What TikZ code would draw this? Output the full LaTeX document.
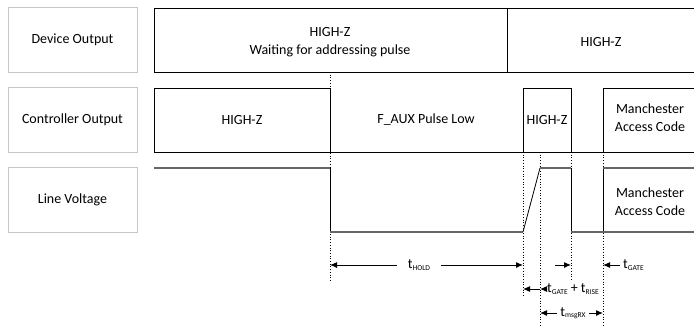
\documentclass[tikz,border=0pt]{standalone}
\usepackage{fontspec}
\setmainfont{Carlito}
\usetikzlibrary{arrows.meta}
\newcommand{\tsub}[1]{t\raisebox{-0.2ex}{\fontsize{7.5}{8}\selectfont #1}}

\begin{document}
\begin{tikzpicture}[x=1pt, y=-1pt, font=\fontsize{14}{18}\selectfont,
    edge/.style={line width=0.8pt},
    wave/.style={draw=black!60, line width=1.3pt},
    guide/.style={dotted, line width=0.7pt},
    dim/.style={line width=1pt, -{Latex[length=7pt,width=6pt]}}]
\useasboundingbox (0,0) rectangle (694,327);

% row labels
\begin{scope}[every node/.style={draw=black!22, line width=0.8pt, minimum width=129pt, minimum height=65pt}]
\node (dev) at (72.5,40) {Device Output};
\node (ctl) at (72.5,120) {Controller Output};
\node (volt) at (72.5,200) {Line Voltage};
\end{scope}

% timing guides
\draw[guide] (330,72) -- (330,282);
\draw[guide] (523,152) -- (523,296);
\draw[guide] (540,152) -- (540,327);
\draw[guide] (571,152) -- (571,280);
\draw[guide] (603,152) -- (603,327);

% device output
\draw[edge] (694,8) -- (154,8) -- (154,72) -- (694,72);
\draw[edge] (507,8) -- (507,72);
\node[align=center] (wait) at (330,42) {HIGH-Z\\Waiting for addressing pulse};
\node (devz) at (601,42) {HIGH-Z};

% controller output
\draw[edge] (154,152) -- (154,88) -- (330,88) -- (330,152);
\draw[edge] (154,152) -- (694,152);
\draw[edge] (523,152) -- (523,88) -- (571,88) -- (571,152);
\draw[edge] (603,152) -- (603,88) -- (694,88);
\node (ctlz) at (242,120) {HIGH-Z};
\node (faux) at (426,120) {F\_AUX Pulse Low};
\node (pz) at (547,120) {HIGH-Z};
\node[align=center] (mac1) at (650,118) {Manchester\\Access Code};

% line voltage
\draw[wave] (154,168) -- (330,168);
\draw[edge] (330,168) -- (330,232);
\draw[wave] (330,232) -- (523,232);
\draw[edge] (523,232) -- (540,168);
\draw[wave] (540,168) -- (571,168);
\draw[edge] (571,168) -- (571,232);
\draw[wave] (571,232) -- (603,232);
\draw[edge] (603,232) -- (603,168);
\draw[wave] (603,168) -- (694,168);
\draw[wave] (603,232) -- (694,232);
\node[align=center] (mac2) at (650,202) {Manchester\\Access Code};

% timings
\coordinate (h0) at (330,265);
\coordinate (h1) at (523,265);
\node[inner xsep=11pt] (hold) at (419,265) {\tsub{HOLD}};
\draw[dim] (hold.west) -- (h0);
\draw[dim] (hold.east) -- (h1);

\coordinate (g0) at (555,265);
\coordinate (g1) at (571,265);
\draw[dim] (g0) -- (g1);

\coordinate (g2) at (603,265);
\node[anchor=west, inner xsep=3pt] (gate) at (620,265) {\tsub{GATE}};
\draw[dim] (gate.west) -- (g2);

\coordinate (r0) at (523,289);
\coordinate (r1) at (540,289);
\node[anchor=west, inner xsep=1pt] (gr) at (546,289) {\tsub{GATE} + \tsub{RISE}};
\draw[dim, {Latex[length=7pt,width=6pt]}-] (r0) -- (r1);
\draw[dim] (gr.west) -- (r1);

\coordinate (m0) at (540,313);
\coordinate (m1) at (603,313);
\node[inner xsep=3pt] (rx) at (573,313) {\tsub{msgRX}};
\draw[dim] (rx.west) -- (m0);
\draw[dim] (rx.east) -- (m1);
\end{tikzpicture}
\end{document}
